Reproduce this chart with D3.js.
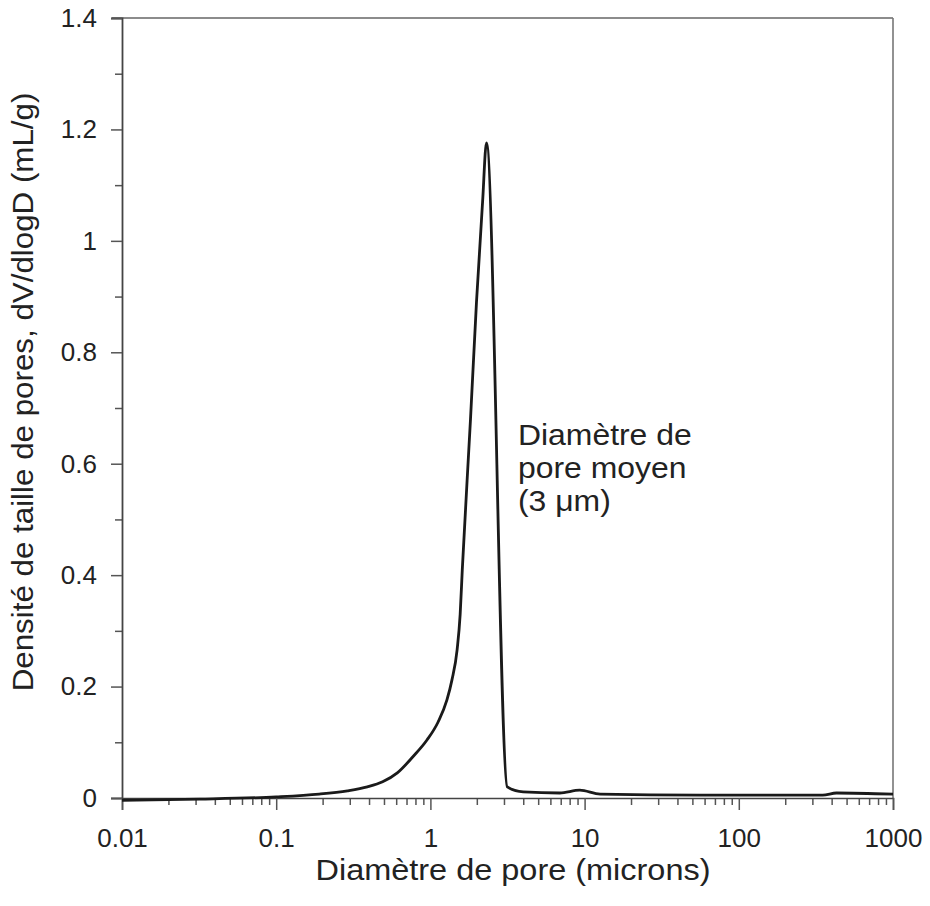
<!DOCTYPE html>
<html>
<head>
<meta charset="utf-8">
<script src="https://cdn.jsdelivr.net/npm/d3@7"></script>
<style>
  html, body { margin: 0; padding: 0; background: #fff; }
  svg { display: block; }
  text { font-family: "Liberation Sans", Arial, Helvetica, sans-serif; fill: #222; }
</style>
</head>
<body>
<svg id="chart" width="930" height="906"></svg>
<script>
// ---- data ----
const poreDiameter = [0.01, 0.032, 0.1, 0.19, 0.29, 0.39, 0.49, 0.61, 0.77, 0.95, 1.12, 1.28, 1.38, 1.49, 1.56, 1.61, 1.82, 1.99, 2.18, 2.31, 3.15, 4.0, 6.9, 9.3, 12.6, 56, 350, 430, 1000];
const density      = [-0.004, -0.002, 0.002, 0.007, 0.013, 0.02, 0.029, 0.045, 0.074, 0.104, 0.136, 0.176, 0.212, 0.266, 0.33, 0.41, 0.68, 0.89, 1.07, 1.176, 0.02, 0.011, 0.009, 0.014, 0.007, 0.005, 0.005, 0.009, 0.007];

const xMajorTicks = [0.01, 0.1, 1, 10, 100, 1000];
const xTickLabels = ["0.01", "0.1", "1", "10", "100", "1000"];
const yMajorTicks = [0, 0.2, 0.4, 0.6, 0.8, 1, 1.2, 1.4];
const yTickLabels = ["0", "0.2", "0.4", "0.6", "0.8", "1", "1.2", "1.4"];
const yMinorTicks = [0.1, 0.3, 0.5, 0.7, 0.9, 1.1, 1.3];

const xTitle = "Diamètre de pore (microns)";
const yTitle = "Densité de taille de pores, dV/dlogD (mL/g)";
const noteLines = ["Diamètre de", "pore moyen", "(3 μm)"];

// ---- layout ----
const svg = d3.select("#chart");
const mLeft = 122, mRight = 893, mTop = 18, mBottom = 798;

const x = d3.scaleLog().domain([0.01, 1000]).range([mLeft, mRight]);
const y = d3.scaleLinear().domain([0, 1.4]).range([mBottom, mTop]);

// minor x ticks 2..9 per decade
const xMinorTicks = [];
for (let p = -2; p < 3; p++) for (let k = 2; k <= 9; k++) xMinorTicks.push(k * Math.pow(10, p));

// frame (top + right)
svg.append("line").attr("x1", mLeft - 10).attr("x2", mRight).attr("y1", y(1.4)).attr("y2", y(1.4))
  .attr("stroke", "#666").attr("stroke-width", 1.6);
svg.append("line").attr("x1", mRight).attr("x2", mRight).attr("y1", mTop).attr("y2", mBottom)
  .attr("stroke", "#777").attr("stroke-width", 1.6);

// x axis
const gx = svg.append("g").attr("transform", `translate(0,${mBottom})`);
gx.call(d3.axisBottom(x).tickValues(xMinorTicks).tickSize(7).tickFormat(""));
gx.call(g => g.select(".domain").remove());
const gx2 = svg.append("g").attr("transform", `translate(0,${mBottom})`);
gx2.call(d3.axisBottom(x).tickValues(xMajorTicks).tickSize(12).tickPadding(19)
  .tickFormat((d, i) => xTickLabels[i]));
gx2.selectAll("text").attr("font-size", 26).attr("fill", "#222");
[gx, gx2].forEach(g => g.selectAll("line").attr("stroke", "#555").attr("stroke-width", 1.5));
gx2.select(".domain").attr("stroke", "#444").attr("stroke-width", 1.6);

// y axis
const gy = svg.append("g").attr("transform", `translate(${mLeft},0)`);
gy.call(d3.axisLeft(y).tickValues(yMinorTicks).tickSize(7).tickFormat(""));
gy.call(g => g.select(".domain").remove());
const gy2 = svg.append("g").attr("transform", `translate(${mLeft},0)`);
gy2.call(d3.axisLeft(y).tickValues(yMajorTicks).tickSize(11).tickPadding(14)
  .tickFormat((d, i) => yTickLabels[i]));
gy2.selectAll("text").attr("font-size", 26).attr("fill", "#222");
[gy, gy2].forEach(g => g.selectAll("line").attr("stroke", "#555").attr("stroke-width", 1.5));
gy2.select(".domain").attr("stroke", "#444").attr("stroke-width", 1.8);

// curve
const line = d3.line()
  .x((d, i) => x(poreDiameter[i]))
  .y((d, i) => y(density[i]))
  .curve(d3.curveMonotoneX);
svg.append("path")
  .datum(density)
  .attr("d", line)
  .attr("fill", "none")
  .attr("stroke", "#1a1a1a")
  .attr("stroke-width", 2.8)
  .attr("stroke-linejoin", "round");

// titles (slightly widened to match the reference lettering)
svg.append("text").attr("transform", "translate(513,880) scale(1.12,1)").attr("text-anchor", "middle")
  .attr("font-size", 29).text(xTitle);
svg.append("text").attr("transform", "translate(33,392) rotate(-90) scale(1.08,1)").attr("text-anchor", "middle")
  .attr("font-size", 29).text(yTitle);

// annotation
svg.append("g").selectAll("text").data(noteLines).join("text")
  .attr("transform", (d, i) => `translate(518,${445 + i * 33}) scale(1.1,1)`)
  .attr("font-size", 29).text(d => d);
</script>
</body>
</html>
